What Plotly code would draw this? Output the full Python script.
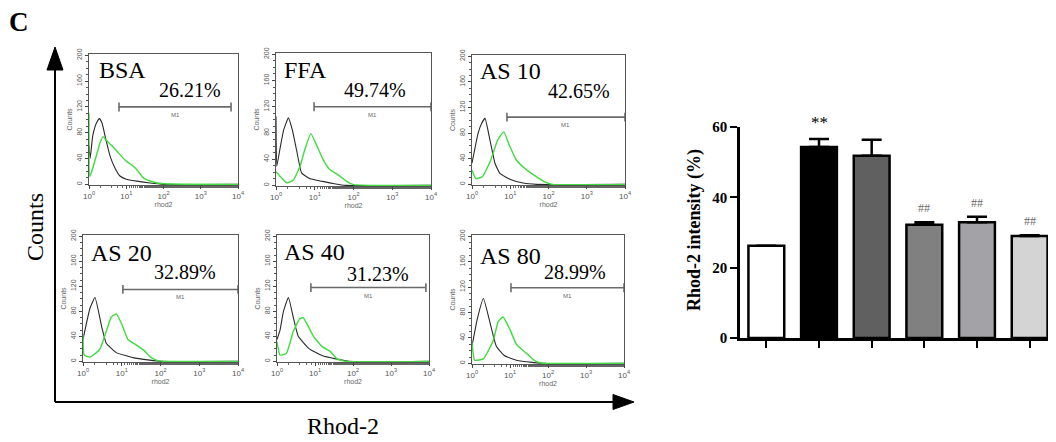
import numpy as np
import plotly.graph_objects as go

# page body has an 8px margin: the figure is sized/placed to compensate
PAGE_W, PAGE_H, OFF = 1056, 442, 8
W, H = PAGE_W - OFF, PAGE_H - OFF

# ---------------- data: flow cytometry panels ----------------
samples = ["BSA", "FFA", "AS 10", "AS 20", "AS 40", "AS 80"]
gate_pct = ["26.21%", "49.74%", "42.65%", "32.89%", "31.23%", "28.99%"]
gate_start = [6.4, 9.6, 8.2, 10.7, 7.8, 10.6]
gate_end = [6500, 10000, 10000, 10000, 8300, 10000]
gate_level = [120, 120, 105, 115, 118, 119]

# curves: log10(rhod2 intensity) and counts
bsa_ctrl_log = [0, 0.03, 0.1, 0.2, 0.28, 0.35, 0.45, 0.57, 0.7, 0.83, 1.0, 1.28, 1.64, 2.0, 4.0]
bsa_ctrl_cnt = [60, 40, 75, 95, 102, 95, 70, 43, 25, 13, 8, 5, 2, 0, 0]
bsa_rhod_log = [0, 0.02, 0.1, 0.2, 0.3, 0.38, 0.5, 0.65, 0.8, 1.0, 1.15, 1.28, 1.46, 1.7, 2.0, 4.0]
bsa_rhod_cnt = [110, 12, 25, 45, 65, 74, 66, 58, 48, 36, 30, 23, 10, 4, 1, 0]

ffa_ctrl_log = [0, 0.02, 0.1, 0.2, 0.32, 0.42, 0.53, 0.66, 0.85, 1.2, 1.54, 1.8, 4.0]
ffa_ctrl_cnt = [105, 29, 55, 85, 103, 85, 54, 19, 11, 6, 2, 0, 0]
ffa_rhod_log = [0, 0.28, 0.45, 0.62, 0.74, 0.9, 1.05, 1.22, 1.39, 1.65, 1.82, 2.0, 4.0]
ffa_rhod_cnt = [21, 4, 8, 29, 54, 79, 61, 39, 24, 14, 6, 1, 0]

as10_ctrl_log = [0, 0.16, 0.25, 0.34, 0.47, 0.6, 0.73, 0.99, 1.34, 1.69, 4.0]
as10_ctrl_cnt = [33, 80, 95, 103, 69, 33, 17, 8, 2, 0, 0]
as10_rhod_log = [0, 0.1, 0.27, 0.49, 0.67, 0.83, 0.99, 1.16, 1.42, 1.68, 1.9, 2.1, 4.0]
as10_rhod_cnt = [22, 9, 12, 38, 69, 82, 59, 38, 23, 12, 4, 0, 0]

as20_ctrl_log = [0, 0.18, 0.31, 0.48, 0.6, 0.86, 1.29, 1.72, 2.0, 4.0]
as20_ctrl_cnt = [35, 85, 102, 56, 29, 14, 6, 2, 0, 0]
as20_rhod_log = [0, 0.03, 0.18, 0.43, 0.6, 0.73, 0.86, 0.99, 1.16, 1.38, 1.6, 1.72, 1.89, 2.1, 4.0]
as20_rhod_cnt = [42, 10, 7, 19, 48, 71, 76, 61, 35, 26, 16, 8, 2, 0, 0]

as40_ctrl_log = [0, 0.08, 0.17, 0.3, 0.43, 0.56, 0.85, 1.2, 1.55, 1.9, 4.0]
as40_ctrl_cnt = [35, 50, 80, 102, 70, 40, 20, 9, 4, 0, 0]
as40_rhod_log = [0, 0.08, 0.25, 0.43, 0.6, 0.69, 0.78, 0.96, 1.18, 1.4, 1.58, 1.84, 4.0]
as40_rhod_cnt = [31, 10, 13, 48, 68, 70, 61, 40, 24, 16, 4, 0, 0]

as80_ctrl_log = [0, 0.14, 0.3, 0.47, 0.64, 0.86, 1.17, 1.52, 1.8, 4.0]
as80_ctrl_cnt = [27, 70, 102, 65, 27, 12, 5, 2, 0, 0]
as80_rhod_log = [0, 0.07, 0.3, 0.56, 0.69, 0.82, 1.0, 1.17, 1.43, 1.61, 1.78, 2.0, 4.0]
as80_rhod_cnt = [33, 5, 7, 36, 66, 73, 53, 30, 16, 6, 1, 0, 0]

hist_xticks = [1, 10, 100, 1000, 10000]
hist_xticktext = ["10<sup>0</sup>", "10<sup>1</sup>", "10<sup>2</sup>", "10<sup>3</sup>", "10<sup>4</sup>"]
hist_yticks = [0, 40, 80, 120, 160, 200]

# ---------------- data: bar chart ----------------
bar_groups = ["BSA", "FFA", "AS 10", "AS 20", "AS 40", "AS 80"]
bar_mean = [26.2, 54.3, 51.8, 32.2, 32.9, 29.0]
bar_err = [0.0, 2.3, 4.6, 0.7, 1.6, 0.2]
bar_sig = ["", "**", "", "##", "##", "##"]
bar_yticks = [0, 20, 40, 60]

curves = [
    (bsa_ctrl_log, bsa_ctrl_cnt, bsa_rhod_log, bsa_rhod_cnt),
    (ffa_ctrl_log, ffa_ctrl_cnt, ffa_rhod_log, ffa_rhod_cnt),
    (as10_ctrl_log, as10_ctrl_cnt, as10_rhod_log, as10_rhod_cnt),
    (as20_ctrl_log, as20_ctrl_cnt, as20_rhod_log, as20_rhod_cnt),
    (as40_ctrl_log, as40_ctrl_cnt, as40_rhod_log, as40_rhod_cnt),
    (as80_ctrl_log, as80_ctrl_cnt, as80_rhod_log, as80_rhod_cnt),
]

# ---------------- layout (page pixel boxes) ----------------
boxes = [(89, 54, 238, 185), (276, 53, 431, 186), (472, 55, 625, 185),
         (83, 235, 238, 362), (277, 235, 429, 362), (472, 235, 624, 364)]
name_pos = [(97, 70), (282, 70), (478, 71), (89, 253), (282, 252), (478, 256)]
pct_pos = [(190, 90), (375, 90), (579, 91), (185, 272), (378, 274), (575, 272)]


def px(x):
    return (x - OFF) / W


def py(y):
    return 1 - (y - OFF) / H


SERIF = "Liberation Serif, Times New Roman, serif"
SANS = "Liberation Sans, Arial, sans-serif"
GREEN = "#3fdc3f"
DARK = "#2a2a2a"

fig = go.Figure()
layout = dict(
    width=W, height=H, margin=dict(l=0, r=0, t=0, b=0),
    paper_bgcolor="white", plot_bgcolor="white", showlegend=False,
    template="none",
)
annotations = []
shapes = []

for i in range(6):
    k = i + 1
    xa = "x" if k == 1 else f"x{k}"
    ya = "y" if k == 1 else f"y{k}"
    cl, cc, rl, rc = curves[i]
    fig.add_trace(go.Scatter(x=np.power(10.0, cl), y=cc, mode="lines",
                             line=dict(color=DARK, width=1.1, shape="spline", smoothing=0.4),
                             xaxis=xa, yaxis=ya, hoverinfo="skip"))
    fig.add_trace(go.Scatter(x=np.power(10.0, rl), y=rc, mode="lines",
                             line=dict(color=GREEN, width=1.4, shape="spline", smoothing=0.4),
                             xaxis=xa, yaxis=ya, hoverinfo="skip"))
    # gate M1
    s, e, lv = gate_start[i], gate_end[i], gate_level[i]
    cap = 7
    fig.add_trace(go.Scatter(x=[s, e, None, s, s, None, e, e],
                             y=[lv, lv, None, lv - cap, lv + cap, None, lv - cap, lv + cap],
                             mode="lines", line=dict(color="#6a6a6a", width=1.6),
                             xaxis=xa, yaxis=ya, hoverinfo="skip", cliponaxis=False))
    annotations.append(dict(x=(np.log10(s) + np.log10(e)) / 2, y=lv, xref=xa, yref=ya,
                            text="M1", showarrow=False, yshift=-8, xanchor="center",
                            font=dict(family=SANS, size=6, color="#666")))
    l, t, r, b = boxes[i]
    common_axis = dict(showline=True, mirror=True, linecolor="#555", linewidth=1.3,
                       ticks="outside", tickcolor="#444", ticklen=3, tickwidth=1,
                       showgrid=False, zeroline=False, automargin=False)
    layout["xaxis" if k == 1 else f"xaxis{k}"] = dict(
        domain=[px(l), px(r)], anchor=ya, type="log", range=[0, 4],
        tickvals=hist_xticks, ticktext=hist_xticktext,
        tickfont=dict(family=SANS, size=8, color="#555"),
        minor=dict(ticks="outside", ticklen=2, tickcolor="#666", showgrid=False),
        title=dict(text="rhod2", font=dict(family=SANS, size=7, color="#666"), standoff=0),
        **common_axis)
    layout["yaxis" if k == 1 else f"yaxis{k}"] = dict(
        domain=[py(b), py(t)], anchor=xa, range=[-1, 202],
        tickvals=hist_yticks, tickangle=-90,
        tickfont=dict(family=SANS, size=7, color="#555"),
        minor=dict(dtick=10, ticks="outside", ticklen=2, tickcolor="#555", showgrid=False),
        title=dict(text="Counts", font=dict(family=SANS, size=7, color="#666"), standoff=2),
        **common_axis)
    nx, ny = name_pos[i]
    annotations.append(dict(x=px(nx), y=py(ny), xref="paper", yref="paper", text=samples[i],
                            showarrow=False, xanchor="left", yanchor="middle",
                            font=dict(family=SERIF, size=24, color="black")))
    cx, cy = pct_pos[i]
    annotations.append(dict(x=px(cx), y=py(cy), xref="paper", yref="paper", text=gate_pct[i],
                            showarrow=False, xanchor="center", yanchor="middle",
                            font=dict(family=SERIF, size=20, color="black")))

# ---------------- bar chart ----------------
bar_colors = ["#ffffff", "#000000", "#606060", "#808080", "#a3a3a7", "#d4d4d4"]
xs = list(range(len(bar_groups)))
fig.add_trace(go.Bar(x=xs, y=bar_mean, width=0.68, xaxis="x7", yaxis="y7",
                     marker=dict(color=bar_colors, line=dict(color="black", width=2.5)),
                     error_y=dict(type="data", array=bar_err, arrayminus=[0] * 6,
                                  symmetric=False, color="black", thickness=2.5, width=10),
                     hovertext=bar_groups, hoverinfo="text+y"))
layout["xaxis7"] = dict(domain=[px(740), 1.0], anchor="y7", range=[-0.5, 5.5],
                        tickvals=xs, showticklabels=False, ticks="outside", ticklen=7,
                        tickwidth=2, tickcolor="black", showline=True, linewidth=2.5,
                        linecolor="black", showgrid=False, zeroline=False, automargin=False)
layout["yaxis7"] = dict(domain=[py(338), py(127)], anchor="x7", range=[0, 60],
                        tickvals=bar_yticks, ticks="outside", ticklen=7, tickwidth=2,
                        tickcolor="black", showline=True, linewidth=2.5, linecolor="black",
                        showgrid=False, zeroline=False, automargin=False,
                        tickfont=dict(family=SERIF, size=15, color="black", weight="bold"))
for i, m in enumerate(bar_sig):
    if not m:
        continue
    star = m == "**"
    annotations.append(dict(x=xs[i], y=bar_mean[i] + bar_err[i], xref="x7", yref="y7",
                            text=m, showarrow=False, yanchor="middle", xanchor="center",
                            yshift=16 if star else 14,
                            font=dict(family=SERIF, size=17 if star else 12,
                                      color="black" if star else "#6a6a6a")))
annotations.append(dict(x=px(694), y=py(230), xref="paper", yref="paper",
                        text="<b>Rhod-2 intensity (%)</b>", textangle=-90, showarrow=False,
                        xanchor="center", yanchor="middle",
                        font=dict(family=SERIF, size=18, color="black")))

# ---------------- outer axes with arrows & labels ----------------
shapes.append(dict(type="line", xref="paper", yref="paper", x0=px(55), x1=px(55),
                   y0=py(402), y1=py(66), line=dict(color="black", width=2)))
shapes.append(dict(type="line", xref="paper", yref="paper", x0=px(55), x1=px(616),
                   y0=py(402), y1=py(402), line=dict(color="black", width=2)))
shapes.append(dict(type="path", xref="paper", yref="paper", fillcolor="black",
                   line=dict(color="black", width=1),
                   path=f"M {px(55)},{py(47)} L {px(47)},{py(70)} L {px(63)},{py(70)} Z"))
shapes.append(dict(type="path", xref="paper", yref="paper", fillcolor="black",
                   line=dict(color="black", width=1),
                   path=f"M {px(634)},{py(402)} L {px(613)},{py(394.5)} L {px(613)},{py(409.5)} Z"))
annotations.append(dict(x=px(35), y=py(227), xref="paper", yref="paper", text="Counts",
                        textangle=-90, showarrow=False, xanchor="center", yanchor="middle",
                        font=dict(family=SERIF, size=24, color="black")))
annotations.append(dict(x=px(343), y=py(426), xref="paper", yref="paper", text="Rhod-2",
                        showarrow=False, xanchor="center", yanchor="middle",
                        font=dict(family=SERIF, size=24, color="black")))
annotations.append(dict(x=px(19), y=py(22), xref="paper", yref="paper", text="<b>C</b>",
                        showarrow=False, xanchor="center", yanchor="middle",
                        font=dict(family=SERIF, size=27, color="black")))

layout["annotations"] = annotations
layout["shapes"] = shapes
fig.update_layout(**layout)
fig.write_html("out.html")
